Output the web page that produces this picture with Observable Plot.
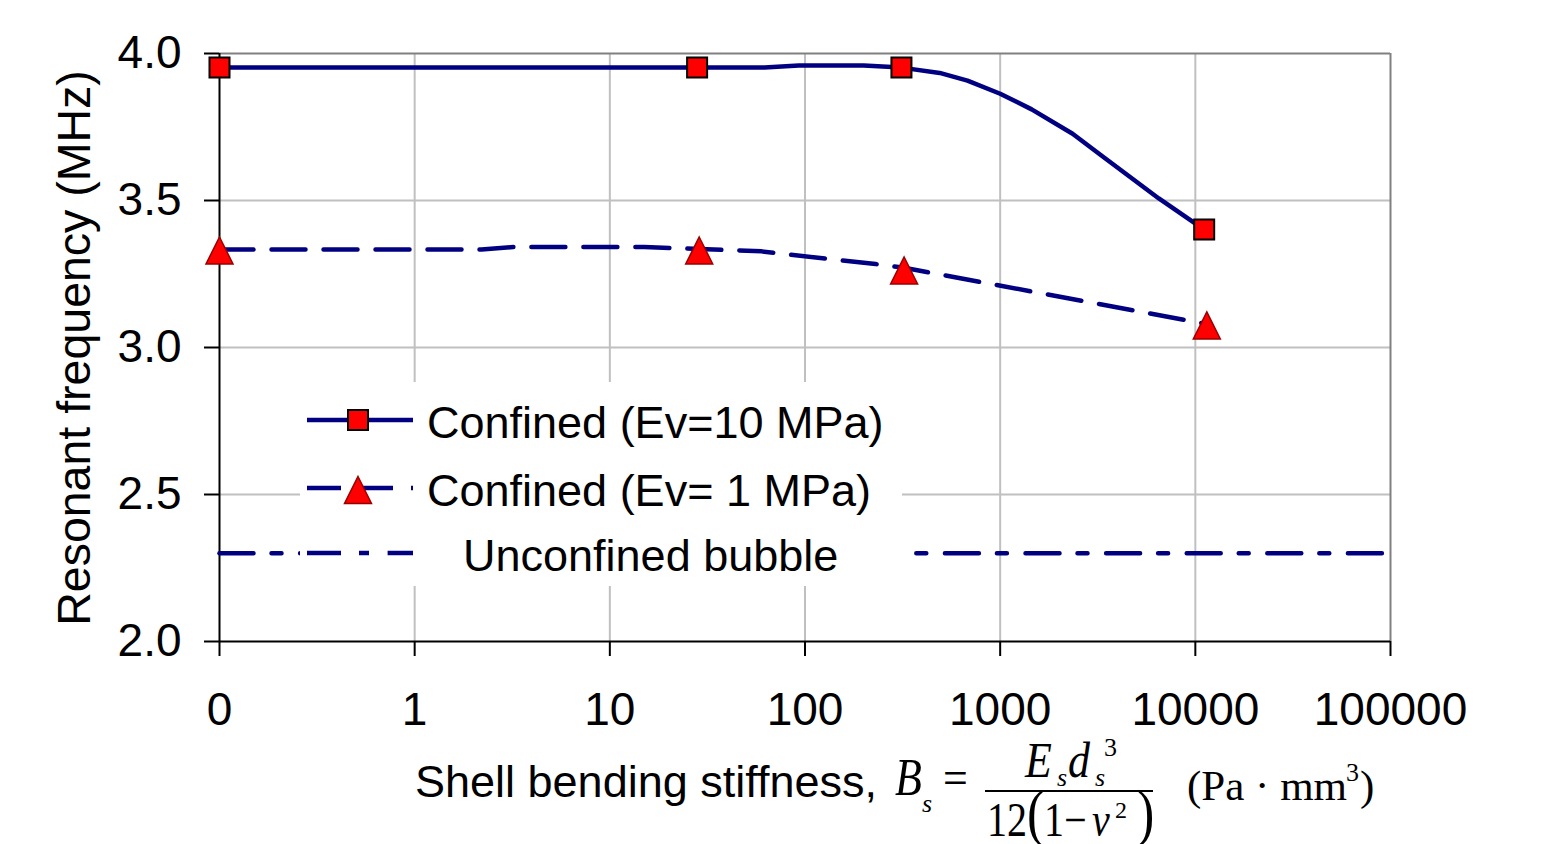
<!DOCTYPE html>
<html><head><meta charset="utf-8">
<script src="https://cdn.jsdelivr.net/npm/d3@7"></script>
<script src="https://cdn.jsdelivr.net/npm/@observablehq/plot@0.6"></script>
<style>body{margin:0;background:#fff;}</style>
</head><body><div id="chart"></div>
<script>
// ---- data ----
const xTicks = [0.1, 1, 10, 100, 1000, 10000, 100000];
const yTicks = [2.0, 2.5, 3.0, 3.5, 4.0];
const seriesNames = ["Confined (Ev=10 MPa)", "Confined (Ev= 1 MPa)", "Unconfined bubble"];

const ev10LineX = [0.1, 28, 62, 93, 200, 312, 490, 680, 1000, 1450, 2350, 3300, 6500, 11100];
const ev10LineY = [3.952, 3.952, 3.952, 3.959, 3.959, 3.952, 3.934, 3.908, 3.863, 3.81, 3.727, 3.653, 3.507, 3.401];
const ev10MarkX = [0.1, 28, 312, 11100];
const ev10MarkY = [3.952, 3.952, 3.952, 3.401];

const ev1LineX = [0.1, 2.2, 3.2, 15, 28.7, 60, 140, 230, 322, 11450];
const ev1LineY = [3.333, 3.333, 3.342, 3.342, 3.335, 3.327, 3.299, 3.284, 3.271, 3.08];
const ev1MarkX = [0.1, 28.7, 322, 11450];
const ev1MarkY = [3.33, 3.33, 3.262, 3.075];

const unconfinedX = [0.1, 100000];
const unconfinedY = [2.3, 2.3];

// ---- build tables ----
const zip = (xs, ys) => xs.map((x, i) => ({x, y: ys[i]}));
const ev10Line = zip(ev10LineX, ev10LineY);
const ev10Mark = zip(ev10MarkX, ev10MarkY);
const ev1Line = zip(ev1LineX, ev1LineY);
const ev1Mark = zip(ev1MarkX, ev1MarkY);
const unconfined = zip(unconfinedX, unconfinedY);

const NAVY = "#000080";
const squareSym = {draw(ctx, size) { const r = Math.sqrt(size / Math.PI); ctx.moveTo(-r, -r); ctx.lineTo(r, -r); ctx.lineTo(r, r); ctx.lineTo(-r, r); ctx.closePath(); }};
const triSym = {draw(ctx, size) { const r = Math.sqrt(size / Math.PI); ctx.moveTo(0, -r); ctx.lineTo(r, r); ctx.lineTo(-r, r); ctx.closePath(); }};
const DASH1 = "34,18";
const DASHDOT = "34,18,10,18.6";

const plot = Plot.plot({
  width: 1552, height: 844,
  marginLeft: 219, marginRight: 162, marginTop: 53, marginBottom: 203,
  style: {fontFamily: "Arial, 'Liberation Sans', sans-serif", fontSize: "46px", background: "white", overflow: "visible", color: "black"},
  x: {type: "log", domain: [0.1, 100000]},
  y: {domain: [2, 4]},
  marks: [
    Plot.gridX(xTicks.slice(1, -1), {stroke: "#c0c0c0", strokeOpacity: 1, strokeWidth: 2}),
    Plot.gridY(yTicks.slice(1, -1), {stroke: "#c0c0c0", strokeOpacity: 1, strokeWidth: 2}),
    Plot.ruleY([4], {stroke: "#808080", strokeWidth: 2}),
    Plot.ruleX([100000], {stroke: "#808080", strokeWidth: 2}),
    Plot.ruleX([0.1], {stroke: "black", strokeWidth: 2}),
    Plot.ruleY([2], {stroke: "black", strokeWidth: 2}),
    Plot.axisX(xTicks, {tickSize: 15, tickPadding: 36, tickFormat: d3.format("d"), strokeWidth: 2, label: null}),
    Plot.axisY(yTicks, {tickSize: 15, tickPadding: 23, tickFormat: d3.format(".1f"), strokeWidth: 2, label: null}),
    Plot.line(unconfined, {x: "x", y: "y", stroke: NAVY, strokeWidth: 4.5, strokeDasharray: DASHDOT}),
    Plot.line(ev1Line, {x: "x", y: "y", stroke: NAVY, strokeWidth: 4.5, strokeDasharray: DASH1}),
    Plot.line(ev10Line, {x: "x", y: "y", stroke: NAVY, strokeWidth: 4.5}),
    Plot.dot(ev10Mark, {x: "x", y: "y", r: 10, symbol: squareSym, fill: "#ff0000", stroke: "black", strokeWidth: 2}),
    Plot.dot(ev1Mark, {x: "x", y: "y", r: 13.5, symbol: triSym, fill: "#ff0000", stroke: "#990000", strokeWidth: 1.5})
  ]
});
document.getElementById("chart").appendChild(plot);

const svg = d3.select(plot);
// legend
const lg = svg.append("g").attr("text-anchor", "start");
lg.append("rect").attr("x", 300).attr("y", 382).attr("width", 602).attr("height", 204).attr("fill", "white");
const rows = [
  {name: seriesNames[0], y: 420, dash: null, sym: squareSym, r: 10, fill: "#ff0000", stroke: "black", sw: 2, tx: 427},
  {name: seriesNames[1], y: 488, dash: DASH1, sym: triSym, r: 13.5, fill: "#ff0000", stroke: "#990000", sw: 1.5, tx: 427},
  {name: seriesNames[2], y: 553, dash: DASHDOT, sym: null, tx: 463}
];
for (const row of rows) {
  lg.append("line").attr("x1", 307).attr("x2", 413).attr("y1", row.y).attr("y2", row.y)
    .attr("stroke", NAVY).attr("stroke-width", 4.5).attr("stroke-dasharray", row.dash);
  if (row.sym) {
    lg.append("path").attr("d", d3.symbol(row.sym, row.r * row.r * Math.PI)())
      .attr("transform", `translate(358,${row.y + (row.sym === triSym ? 2 : 0)})`)
      .attr("fill", row.fill).attr("stroke", row.stroke).attr("stroke-width", row.sw);
  }
  lg.append("text").attr("x", row.tx).attr("y", row.y + 18).attr("font-size", 45).attr("fill", "black").text(row.name);
}

// y axis title
svg.append("text").attr("transform", "translate(90,348) rotate(-90)").attr("text-anchor", "middle")
  .attr("font-size", 46.5).attr("fill", "black").text("Resonant frequency (MHz)");

// x axis title
const xt = svg.append("g").attr("text-anchor", "start");
xt.append("text").attr("x", 415).attr("y", 797).attr("font-size", 45).attr("fill", "black").text("Shell bending stiffness,");
const SERIF = "'Times New Roman', 'Liberation Serif', serif";
function eq(str, x, y, size, italic, sy) {
  xt.append("text").attr("transform", `translate(${x},${y}) scale(1,${sy || 1})`)
    .attr("font-family", SERIF).attr("font-size", size).attr("font-style", italic ? "italic" : "normal")
    .attr("fill", "black").text(str);
}
eq("B", 895, 795, 44, true, 1.2);
eq("s", 922, 812, 26, true);
eq("=", 943, 794, 44, false, 1.1);
xt.append("line").attr("x1", 985).attr("x2", 1153).attr("y1", 791).attr("y2", 791).attr("stroke", "black").attr("stroke-width", 2);
eq("E", 1025, 777, 44, true, 1.15);
eq("s", 1057, 786, 26, true);
eq("d", 1068, 777, 44, true, 1.15);
eq("s", 1095, 786, 26, true);
eq("3", 1104, 756, 26, false);
eq("12", 987, 836, 40, false, 1.2);
eq("(", 1027, 834, 52, false, 1.2);
eq("1", 1044, 836, 40, false, 1.2);
eq("\u2212", 1064, 836, 40, false, 1.2);
eq("\u03bd", 1092, 836, 40, true, 1.2);
eq("2", 1115, 818, 24, false);
eq(")", 1137, 834, 52, false, 1.2);
eq("(Pa \u00b7 mm", 1187, 800, 43, false);
eq("3", 1346, 781, 26, false);
eq(")", 1360, 800, 43, false);
</script>
</body></html>
